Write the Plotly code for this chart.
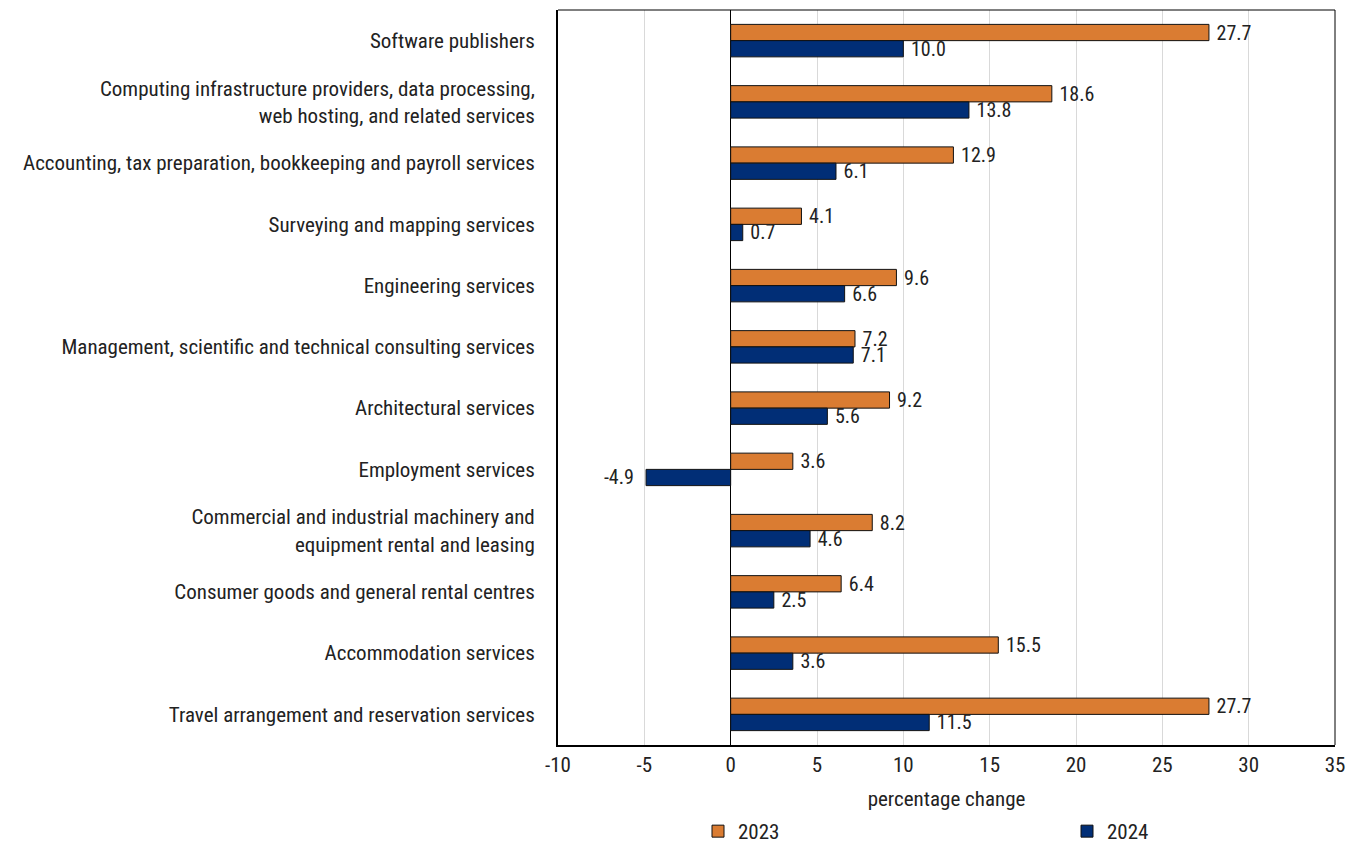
import plotly.graph_objects as go

categories = [
    "Software publishers",
    "Computing infrastructure providers, data processing,<br>web hosting, and related services",
    "Accounting, tax preparation, bookkeeping and payroll services",
    "Surveying and mapping services",
    "Engineering services",
    "Management, scientific and technical consulting services",
    "Architectural services",
    "Employment services",
    "Commercial and industrial machinery and<br>equipment rental and leasing",
    "Consumer goods and general rental centres",
    "Accommodation services",
    "Travel arrangement and reservation services",
]
values_2023 = [27.7, 18.6, 12.9, 4.1, 9.6, 7.2, 9.2, 3.6, 8.2, 6.4, 15.5, 27.7]
values_2024 = [10.0, 13.8, 6.1, 0.7, 6.6, 7.1, 5.6, -4.9, 4.6, 2.5, 3.6, 11.5]
x_ticks = [-10, -5, 0, 5, 10, 15, 20, 25, 30, 35]
x_tick_text = ["-10", "-5", "0", "5", "10", "15", "20", "25", "30", "35"]

FONT = "Roboto Condensed, sans-serif"
TXT = "#222222"
SIZE = 21
LABEL_SIZE = 20
NBSP = "\u00a0"


def bar_labels(values):
    # one decimal, padded away from the bar end on the side the bar points to
    return [f"{NBSP}{v:.1f}" if v >= 0 else f"{v:.1f}{NBSP * 2}" for v in values]


fig = go.Figure()
fig.add_trace(go.Bar(
    y=categories, x=values_2023, name="2023", orientation="h", legend="legend",
    marker=dict(color="#DA7C32", line=dict(color="#111111", width=1)),
    text=bar_labels(values_2023), textposition="outside",
    constraintext="none", cliponaxis=False,
    textfont=dict(size=LABEL_SIZE, color=TXT, family=FONT),
))
fig.add_trace(go.Bar(
    y=categories, x=values_2024, name="2024", orientation="h", legend="legend2",
    marker=dict(color="#012E76", line=dict(color="#111111", width=1)),
    text=bar_labels(values_2024), textposition="outside",
    constraintext="none", cliponaxis=False,
    textfont=dict(size=LABEL_SIZE, color=TXT, family=FONT),
))

legend_style = dict(
    visible=True, orientation="h", yref="container", y=-0.01, yanchor="bottom",
    xref="container", xanchor="left", itemwidth=30,
    font=dict(size=SIZE, family=FONT, color=TXT), bgcolor="rgba(0,0,0,0)",
)

fig.update_layout(
    width=1357, height=852,
    margin=dict(l=558, r=22, t=10, b=107, autoexpand=False),
    paper_bgcolor="white", plot_bgcolor="white",
    font=dict(family=FONT, size=SIZE, color=TXT),
    showlegend=True,
    barmode="group", bargap=0.47, bargroupgap=0,
    legend=dict(legend_style, x=698 / 1357),
    legend2=dict(legend_style, x=1067 / 1357),
    xaxis=dict(
        range=[-10, 35], tickvals=x_ticks, ticktext=x_tick_text,
        showgrid=True, gridcolor="#D9D9D9", gridwidth=1,
        zeroline=True, zerolinecolor="#000000", zerolinewidth=1,
        showline=True, linecolor="#000000", linewidth=2,
        ticks="", tickfont=dict(size=SIZE, family=FONT, color=TXT),
        title=dict(text="percentage change", standoff=24,
                   font=dict(size=SIZE, family=FONT, color=TXT)),
        automargin=False,
    ),
    yaxis=dict(
        autorange="reversed",
        showline=True, linecolor="#000000", linewidth=2,
        showgrid=False, ticks="", ticklabelstandoff=17,
        tickfont=dict(size=SIZE, family=FONT, color=TXT),
        automargin=False,
    ),
    shapes=[
        dict(type="line", xref="paper", yref="paper", x0=0, x1=1, y0=1, y1=1,
             line=dict(color="#000000", width=1)),
        dict(type="line", xref="paper", yref="paper", x0=1, x1=1, y0=0, y1=1,
             line=dict(color="#000000", width=1)),
    ],
)

fig.write_html("out.html")
